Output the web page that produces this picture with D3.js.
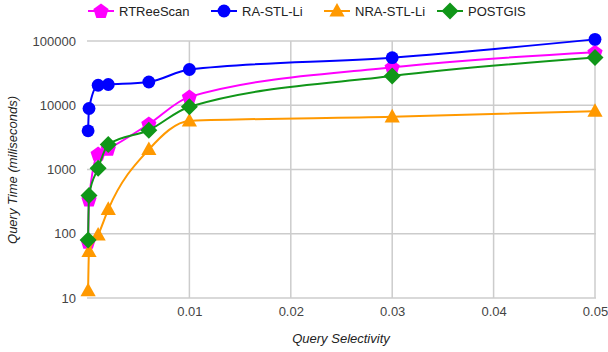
<!DOCTYPE html>
<html>
<head>
<meta charset="utf-8">
<script src="https://cdn.jsdelivr.net/npm/d3@7"></script>
<style>
  body { margin: 0; background: #fff; }
  svg { display: block; font-family: Arial, "Liberation Sans", sans-serif; }
</style>
</head>
<body>
<svg id="chart" width="608" height="352"></svg>
<script>
// Query selectivity per measurement
const selectivity = [0.00001, 0.0001, 0.001, 0.002, 0.006, 0.01, 0.03, 0.05];

// Query time in milliseconds per method
const rtreeScan = [75, 340, 1750, 2100, 5100, 13500, 39000, 67000];
const raStlLi   = [4000, 8900, 20500, 21000, 23000, 36000, 55000, 106000];
const nraStlLi  = [13, 53, 96, 240, 2050, 5700, 6600, 8100];
const postgis   = [80, 395, 1050, 2450, 4100, 9500, 28500, 55500];

const seriesNames = ["RTReeScan", "RA-STL-Li", "NRA-STL-Li", "POSTGIS"];
const seriesColors = ["#ff00ff", "#0000ff", "#ff9900", "#109618"];
const seriesShapes = ["pentagon", "circle", "triangle", "diamond"];
const seriesValues = [rtreeScan, raStlLi, nraStlLi, postgis];

const xTicks = [0.01, 0.02, 0.03, 0.04, 0.05];
const yTicks = [10, 100, 1000, 10000, 100000];

const svg = d3.select("#chart");
const plotLeft = 88, plotRight = 595, plotTop = 41, plotBottom = 298;

const x = d3.scaleLinear().domain([0, 0.05]).range([plotLeft, plotRight]);
const y = d3.scaleLog().domain([10, 100000]).range([plotBottom, plotTop]);

// Grid
const grid = svg.append("g");
grid.selectAll("line.h").data(yTicks).join("line")
  .attr("class", "h")
  .attr("x1", plotLeft - 1).attr("x2", plotRight + 1)
  .attr("y1", d => y(d)).attr("y2", d => y(d))
  .attr("stroke", "#cccccc").attr("stroke-width", 1.5);
grid.selectAll("line.v").data(xTicks).join("line")
  .attr("class", "v")
  .attr("x1", d => x(d)).attr("x2", d => x(d))
  .attr("y1", plotTop).attr("y2", plotBottom)
  .attr("stroke", "#cccccc").attr("stroke-width", 1.5);

// Axes (labels only; grid draws the lines)
const yAxis = d3.axisLeft(y).tickValues(yTicks).tickFormat(d3.format("d")).tickSize(0).tickPadding(12);
svg.append("g").attr("transform", `translate(${plotLeft},0)`).call(yAxis)
  .call(g => g.select(".domain").remove())
  .call(g => g.selectAll("text").attr("fill", "#444").attr("font-size", 13)
    .attr("font-family", "Arial, 'Liberation Sans', sans-serif"));

const xAxis = d3.axisBottom(x).tickValues(xTicks).tickFormat(d3.format(".2f")).tickSize(0).tickPadding(9);
svg.append("g").attr("transform", `translate(0,${plotBottom})`).call(xAxis)
  .call(g => g.select(".domain").remove())
  .call(g => g.selectAll("text").attr("fill", "#444").attr("font-size", 13)
    .attr("font-family", "Arial, 'Liberation Sans', sans-serif"));

// Axis titles
svg.append("text").attr("x", 341).attr("y", 343).attr("text-anchor", "middle")
  .attr("font-size", 13).attr("font-style", "italic").attr("fill", "#222")
  .text("Query Selectivity");
svg.append("text").attr("transform", "translate(17,170) rotate(-90)")
  .attr("text-anchor", "middle").attr("font-size", 13).attr("font-style", "italic").attr("fill", "#222")
  .text("Query Time (miliseconds)");

// Marker shapes
function markerPath(shape) {
  if (shape === "circle") return d3.symbol(d3.symbolCircle, 130)();
  if (shape === "diamond") {
    const r = 8.5;
    return `M0,${-r}L${r},0L0,${r}L${-r},0Z`;
  }
  if (shape === "triangle") {
    const r = 8;
    return `M0,${-r}L${r * 0.95},${r * 0.7}L${-r * 0.95},${r * 0.7}Z`;
  }
  // pentagon
  const r = 8;
  const pts = d3.range(5).map(i => {
    const a = -Math.PI / 2 + i * 2 * Math.PI / 5;
    return [r * Math.cos(a), r * Math.sin(a) + 0.5];
  });
  return "M" + pts.map(p => p.join(",")).join("L") + "Z";
}

const line = d3.line().curve(d3.curveMonotoneX)
  .x(d => x(d[0])).y(d => y(d[1]));

seriesValues.forEach((vals, i) => {
  const pts = selectivity.map((s, j) => [s, vals[j]]);
  const g = svg.append("g");
  g.append("path").datum(pts).attr("d", line)
    .attr("fill", "none").attr("stroke", seriesColors[i]).attr("stroke-width", 2);
  g.selectAll("path.m").data(pts).join("path")
    .attr("class", "m")
    .attr("d", markerPath(seriesShapes[i]))
    .attr("transform", d => `translate(${x(d[0])},${y(d[1])})`)
    .attr("fill", seriesColors[i]);
});

// Legend
const legendX = [88, 211, 324, 437];
const legend = svg.append("g");
seriesNames.forEach((name, i) => {
  const g = legend.append("g").attr("transform", `translate(${legendX[i]},11)`);
  g.append("line").attr("x1", 0).attr("x2", 26).attr("y1", 0).attr("y2", 0)
    .attr("stroke", seriesColors[i]).attr("stroke-width", 2);
  g.append("path").attr("d", markerPath(seriesShapes[i]))
    .attr("transform", "translate(13,0)").attr("fill", seriesColors[i]);
  g.append("text").attr("x", 31).attr("y", 0).attr("dy", "0.35em")
    .attr("font-size", 13).attr("fill", "#222").text(name);
});
</script>
</body>
</html>
